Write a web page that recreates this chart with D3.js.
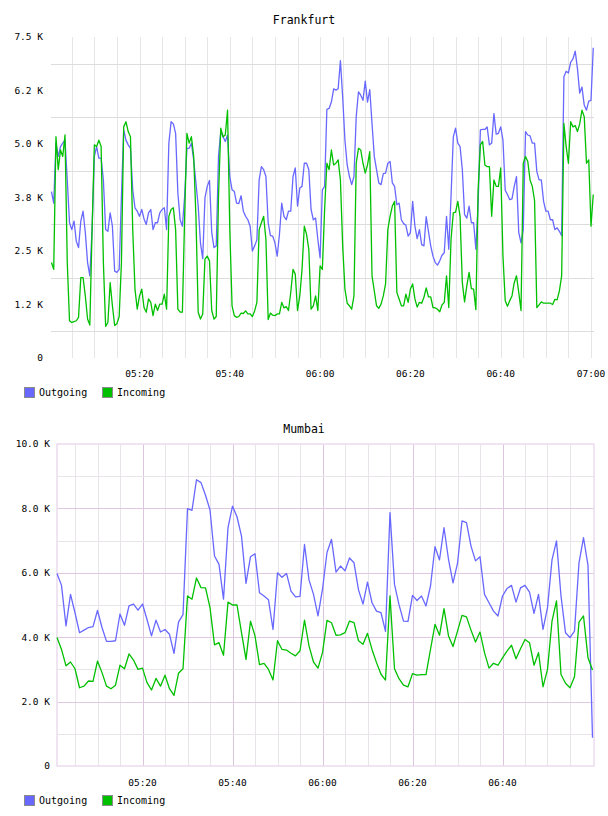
<!DOCTYPE html>
<html><head><meta charset="utf-8">
<script src="https://cdn.jsdelivr.net/npm/d3@7/dist/d3.min.js"></script>
<style>
body{margin:0;background:#fff;}
svg{display:block;}
text{font-family:"DejaVu Sans Mono",monospace;fill:#000;}
</style>
</head><body>
<svg id="c" width="608" height="816"></svg>
<script>
// ---------- data ----------
const seriesNames = ["Outgoing", "Incoming"];
const seriesColors = ["#6868ff", "#00c000"];

// Frankfurt: 30 s samples starting 05:00:30 (values in thousands)
const fraTitle = "Frankfurt";
const fraStart = "05:00:30";
const fraStepSec = 30;
const fraOutgoing = [
3.89,3.62,5.02,4.71,4.94,5.02,5.09,4.16,3.16,3.00,
3.20,2.73,2.58,3.20,3.43,2.93,2.23,1.92,3.00,4.71,
4.94,4.67,4.67,4.16,3.00,2.96,3.39,3.08,2.03,2.00,
2.07,3.78,5.33,5.09,4.98,4.90,3.93,3.51,3.43,3.31,
3.47,3.25,3.12,3.39,3.47,3.00,3.16,3.16,3.39,3.47,
3.51,3.00,5.02,5.52,5.47,5.25,3.85,3.23,3.08,3.78,
4.90,4.90,5.02,4.63,4.09,3.55,2.69,2.32,3.74,4.01,
4.15,2.93,2.58,2.62,4.71,5.29,5.17,5.06,5.21,4.24,
3.93,3.89,3.62,3.61,3.79,3.43,3.31,3.23,3.08,2.50,
2.62,2.76,4.16,4.47,4.40,4.24,3.16,2.86,2.85,2.69,
2.38,2.89,3.62,3.31,3.23,3.43,3.43,4.24,4.44,3.55,
3.97,4.01,4.55,4.55,4.40,3.47,3.23,3.27,2.77,2.34,
3.93,4.01,5.81,5.83,5.98,6.29,6.26,6.29,6.95,6.10,
5.09,4.51,4.24,4.05,4.24,5.64,6.22,6.14,6.02,6.47,
5.98,6.27,5.48,4.71,4.40,4.09,4.05,4.31,4.32,4.55,
4.59,4.09,4.01,3.58,3.62,3.23,3.14,3.10,2.85,2.93,
3.66,3.08,2.79,3.00,2.65,2.62,3.30,2.96,2.62,2.38,
2.23,2.17,2.27,2.40,2.46,3.31,2.54,3.78,5.16,5.37,
5.02,4.94,4.40,3.35,3.27,3.55,3.16,3.16,2.54,3.62,
5.33,5.34,5.34,5.40,4.98,5.02,5.71,5.23,5.25,5.40,
5.09,3.92,3.82,3.70,3.72,4.01,4.24,2.93,2.69,3.00,
5.29,5.21,5.19,5.02,5.02,4.36,4.16,4.16,3.66,3.43,
3.43,3.23,3.23,3.00,3.04,2.96,2.86,6.57,6.70,6.66,
6.91,6.99,7.17,6.76,6.19,6.33,5.91,5.79,6.00,6.02,
7.25];
const fraIncoming = [
2.23,2.07,5.17,4.40,4.86,4.71,5.21,2.23,0.87,0.83,
0.85,0.87,0.95,1.88,1.88,1.45,0.91,0.77,3.00,4.98,
4.94,5.09,4.94,2.23,0.74,0.83,1.76,1.22,0.76,0.80,
0.97,2.23,5.40,5.52,5.29,5.17,3.00,1.61,1.14,1.45,
1.61,1.18,1.07,1.38,1.30,0.99,1.26,1.11,1.26,1.26,
1.49,1.14,3.31,3.47,3.51,3.00,1.14,1.07,1.07,3.31,
5.25,5.02,5.17,4.71,3.31,1.07,0.91,1.03,2.31,2.38,
2.27,1.11,0.91,0.97,3.78,5.37,5.17,5.21,5.79,3.00,
1.22,0.99,0.95,0.97,1.05,1.04,1.10,1.03,1.03,0.97,
1.10,1.30,3.00,3.16,3.31,2.77,0.90,1.05,1.00,0.99,
1.03,1.03,1.30,1.17,1.20,1.11,1.53,2.07,1.96,1.11,
1.45,2.07,3.08,2.89,2.54,1.14,1.22,1.45,1.11,2.15,
2.07,3.47,4.55,4.40,4.86,4.51,4.55,4.63,4.16,2.62,
1.61,1.28,1.22,1.14,1.45,4.55,4.90,4.86,4.55,4.32,
4.51,4.82,1.92,1.57,1.22,1.16,1.26,1.45,1.73,3.00,
3.31,3.55,3.66,1.53,1.38,1.22,1.22,1.49,1.30,1.61,
1.73,1.38,1.19,1.30,1.28,1.42,1.64,1.43,1.43,1.18,
1.17,1.14,1.08,1.24,1.30,1.92,1.18,2.77,3.39,3.41,
3.66,3.31,1.76,1.31,1.69,2.00,1.62,1.61,1.13,3.93,
4.98,5.06,4.51,4.47,4.47,3.31,4.16,4.01,4.01,4.44,
2.38,1.34,1.21,1.34,1.45,1.76,1.92,1.53,1.11,4.55,
4.71,4.59,4.16,4.01,3.68,1.18,1.24,1.31,1.28,1.28,
1.28,1.28,1.25,1.37,1.36,1.57,1.92,5.48,4.94,4.55,
5.52,5.40,5.43,5.29,5.47,5.79,5.64,4.55,4.63,3.08,
3.82];
const fraYTicks = [0, 1.25, 2.5, 3.75, 5, 6.25, 7.5];
const fraYLabels = ["0", "1.2 K", "2.5 K", "3.8 K", "5.0 K", "6.2 K", "7.5 K"];
const fraYGrid = [0.625, 1.875, 3.125, 4.375, 5.625, 6.875];
const fraXLabels = ["05:20", "05:40", "06:00", "06:20", "06:40", "07:00"];

// Mumbai: 1 min samples starting 05:01 (values in thousands)
const mumTitle = "Mumbai";
const mumStart = "05:01:00";
const mumStepSec = 60;
const mumOutgoing = [
5.98,5.61,4.35,5.33,4.76,4.14,4.22,4.30,4.33,4.83,
4.30,3.87,3.87,3.89,4.72,4.37,4.97,5.03,4.84,5.03,
4.55,4.04,4.53,4.16,4.24,4.09,3.50,4.47,4.70,7.99,
7.94,8.89,8.80,8.41,7.95,6.52,6.26,5.18,7.40,8.07,
7.74,7.14,5.67,6.50,6.59,5.38,5.28,5.16,4.24,6.00,
5.86,5.98,5.43,5.25,5.27,6.88,5.78,5.33,4.66,5.49,
6.63,7.04,6.02,6.21,6.06,6.46,6.31,5.47,5.03,5.71,
5.07,4.81,4.76,4.18,7.87,5.64,5.01,4.50,4.49,5.30,
5.14,5.28,4.97,5.59,6.81,6.40,7.40,6.42,5.69,6.29,
7.61,7.56,6.83,6.37,6.50,5.33,5.07,4.81,4.66,5.28,
5.51,5.61,5.09,5.53,5.61,5.40,4.74,5.33,4.24,4.92,
6.40,6.99,5.28,4.14,3.99,4.19,6.31,7.09,6.23,0.88];
const mumIncoming = [
3.99,3.62,3.11,3.23,3.02,2.43,2.48,2.64,2.63,3.26,
2.90,2.48,2.40,2.51,3.13,3.02,3.48,3.29,3.00,3.04,
2.59,2.36,2.72,2.48,2.82,2.40,2.19,2.88,3.02,5.28,
5.18,5.84,5.54,5.53,4.92,3.76,3.83,3.44,5.09,5.00,
5.00,4.14,3.31,4.50,4.04,3.15,3.19,3.00,2.67,3.89,
3.62,3.60,3.50,3.42,3.58,4.53,3.73,3.23,3.04,3.52,
4.52,4.45,4.06,4.07,4.14,4.50,4.45,3.89,3.78,4.12,
3.62,3.21,2.85,2.67,5.28,3.02,2.71,2.51,2.46,2.87,
2.82,2.84,2.84,3.62,4.40,4.06,4.89,4.04,3.71,4.19,
4.68,4.63,4.22,3.85,4.16,3.52,3.04,3.19,3.13,3.36,
3.57,3.75,3.33,3.64,3.93,3.83,3.13,3.52,2.46,3.00,
4.50,5.13,2.84,2.57,2.43,2.77,4.47,4.66,3.36,2.98];
const mumYTicks = [0, 2, 4, 6, 8, 10];
const mumYLabels = ["0", "2.0 K", "4.0 K", "6.0 K", "8.0 K", "10.0 K"];
const mumYMinor = [1, 3, 5, 7, 9];
const mumXLabels = ["05:20", "05:40", "06:00", "06:20", "06:40"];

// ---------- drawing ----------
const svg = d3.select("#c");
const parseT = d3.utcParse("%H:%M:%S");
const parseHM = d3.utcParse("%H:%M");
const times = (start, step, n) => d3.range(n).map(i => new Date(parseT(start).getTime() + i * step * 1000));

function legend(y) {
  const g = svg.append("g");
  const xs = [24, 102];
  seriesNames.forEach((name, i) => {
    g.append("rect").attr("x", xs[i] + 0.5).attr("y", y + 0.5).attr("width", 10).attr("height", 10)
      .attr("fill", seriesColors[i]).attr("stroke", "#8a8a8a").attr("stroke-width", 1);
    g.append("text").attr("x", xs[i] + 15).attr("y", y + 9).attr("font-size", 10).text(name);
  });
}

function drawLines(g, x, y, t, series) {
  const line = d3.line().x((d, i) => x(t[i])).y(d => y(d));
  series.forEach((s, i) => {
    g.append("path").datum(s).attr("d", line).attr("fill", "none")
      .attr("stroke", seriesColors[i]).attr("stroke-width", 1.3).attr("stroke-linejoin", "round");
  });
}

// ----- Frankfurt -----
{
  const x = d3.scaleUtc().domain([parseHM("05:00"), parseHM("07:00")]).range([49.2, 591]);
  const y = d3.scaleLinear().domain([0, 7.5]).range([358, 37]);
  const left = 51, right = 594, top = 37, bottom = 358;
  const t = times(fraStart, fraStepSec, fraOutgoing.length);
  const g = svg.append("g");
  svg.append("text").attr("x", 304).attr("y", 24).attr("text-anchor", "middle").attr("font-size", 11.5).text(fraTitle);

  const vt = d3.utcMinute.every(5).range(parseHM("05:05"), new Date(parseHM("07:00").getTime() + 1));
  g.selectAll(".vg").data(vt).join("line")
    .attr("x1", d => Math.round(x(d)) + 0.5).attr("x2", d => Math.round(x(d)) + 0.5)
    .attr("y1", top).attr("y2", bottom).attr("stroke", "#e6e6e6");
  g.selectAll(".hg").data(fraYGrid).join("line")
    .attr("x1", left).attr("x2", right)
    .attr("y1", d => Math.round(y(d)) + 0.5).attr("y2", d => Math.round(y(d)) + 0.5).attr("stroke", "#dcdcdc");

  g.selectAll(".yl").data(fraYTicks).join("text")
    .attr("x", 43).attr("y", d => y(d)).attr("dy", "0.35em").attr("text-anchor", "end")
    .attr("font-size", 9.5).text((d, i) => fraYLabels[i]);
  g.selectAll(".xl").data(fraXLabels).join("text")
    .attr("x", d => x(parseHM(d))).attr("y", 377).attr("text-anchor", "middle")
    .attr("font-size", 9.5).text(d => d);

  drawLines(g, x, y, t, [fraOutgoing, fraIncoming]);
  legend(387);
}

// ----- Mumbai -----
{
  const x = d3.scaleUtc().domain([parseHM("05:01"), parseHM("07:00")]).range([57, 592.5]);
  const y = d3.scaleLinear().domain([0, 10]).range([766, 444]);
  const left = 57, right = 594, top = 444, bottom = 766;
  const t = times(mumStart, mumStepSec, mumOutgoing.length);
  const g = svg.append("g");
  svg.append("text").attr("x", 304).attr("y", 433).attr("text-anchor", "middle").attr("font-size", 11.5).text(mumTitle);

  const vt = d3.utcMinute.every(5).range(parseHM("05:05"), parseHM("07:00"));
  g.selectAll(".vg").data(vt).join("line")
    .attr("x1", d => Math.round(x(d)) + 0.5).attr("x2", d => Math.round(x(d)) + 0.5)
    .attr("y1", top).attr("y2", bottom)
    .attr("stroke", d => d.getUTCMinutes() % 20 === 0 ? "#dcc6de" : "#e8e4ea");
  g.selectAll(".hm").data(mumYMinor).join("line")
    .attr("x1", left).attr("x2", right)
    .attr("y1", d => Math.round(y(d)) + 0.5).attr("y2", d => Math.round(y(d)) + 0.5).attr("stroke", "#e8e4ea");
  g.selectAll(".hM").data(mumYTicks.slice(1, -1)).join("line")
    .attr("x1", left).attr("x2", right)
    .attr("y1", d => Math.round(y(d)) + 0.5).attr("y2", d => Math.round(y(d)) + 0.5).attr("stroke", "#e0c8e2");
  g.append("rect").attr("x", left).attr("y", top).attr("width", right - left).attr("height", bottom - top)
    .attr("fill", "none").attr("stroke", "#ecdcf0").attr("stroke-width", 1.5);

  g.selectAll(".yl").data(mumYTicks).join("text")
    .attr("x", 50).attr("y", d => y(d)).attr("dy", "0.35em").attr("text-anchor", "end")
    .attr("font-size", 9.5).text((d, i) => mumYLabels[i]);
  g.selectAll(".xl").data(mumXLabels).join("text")
    .attr("x", d => x(parseHM(d))).attr("y", 786).attr("text-anchor", "middle")
    .attr("font-size", 9.5).text(d => d);

  drawLines(g, x, y, t, [mumOutgoing, mumIncoming]);
  legend(795);
}
</script>
</body></html>
